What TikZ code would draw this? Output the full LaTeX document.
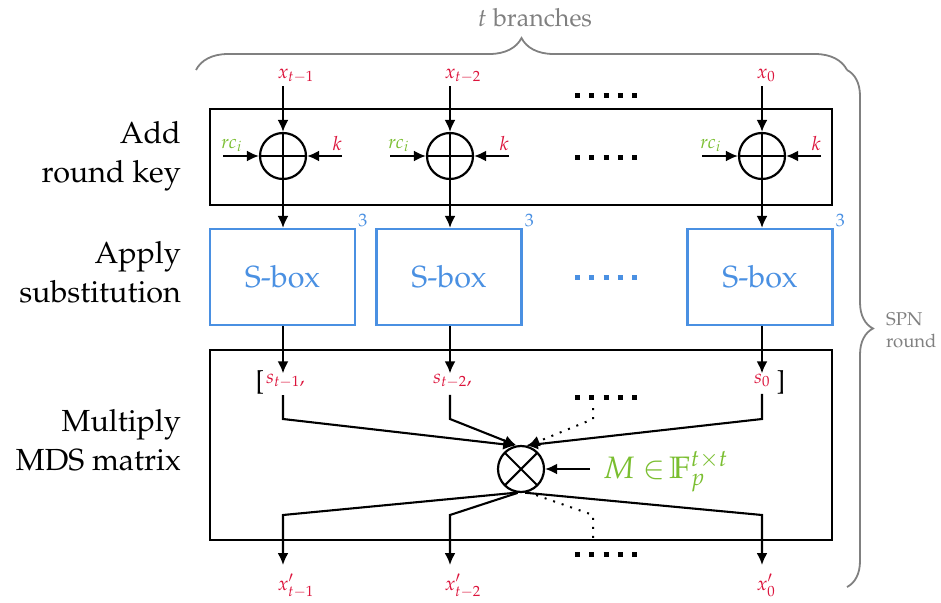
\documentclass[tikz,border=0pt]{standalone}
\usepackage[T1]{fontenc}
\usepackage{mathpazo}
\usetikzlibrary{arrows.meta,decorations.pathreplacing}

\definecolor{sigred}{RGB}{220,20,60}
\definecolor{constgreen}{RGB}{122,190,48}
\definecolor{sboxblue}{RGB}{74,144,226}
\definecolor{annotgray}{RGB}{128,128,128}

\newcommand{\setfs}[1]{\fontsize{#1}{#1}\selectfont}

\begin{document}
\begin{tikzpicture}[x=1pt,y=-1pt,
  >={Latex[length=12pt,width=11pt]},
  wire/.style={line width=2.1pt},
  dotwire/.style={line width=2pt, dash pattern=on 2pt off 7pt},
  frame/.style={draw, line width=2.3pt, minimum width=622pt, inner sep=0pt},
  sbox/.style={draw=sboxblue, line width=2.2pt, minimum width=145pt, minimum height=96pt,
    inner sep=0pt, text=sboxblue, font=\setfs{30.5}},
  expo/.style={text=sboxblue, font=\setfs{18}, inner sep=1pt, anchor=south west},
  xorop/.style={circle, draw, line width=2.2pt, minimum size=46pt, inner sep=0pt,
    path picture={\draw[line width=2.1pt]
      (path picture bounding box.north) -- (path picture bounding box.south)
      (path picture bounding box.west) -- (path picture bounding box.east);}},
  mulop/.style={circle, draw, line width=2.2pt, minimum size=46pt, inner sep=0pt,
    path picture={\draw[line width=2.1pt]
      (path picture bounding box.north west) -- (path picture bounding box.south east)
      (path picture bounding box.south west) -- (path picture bounding box.north east);}},
  sig/.style={text=sigred, font=\setfs{19.5}, inner sep=0pt},
  rclab/.style={text=constgreen, font=\setfs{19}, inner sep=0pt},
  dotrow/.style={line width=5pt, dash pattern=on 5pt off 9.25pt},
  caption/.style={align=right, anchor=east, inner sep=0pt, font=\fontsize{30.5}{39}\selectfont},
  annot/.style={draw=annotgray, line width=1.8pt},
  bracket/.style={font=\setfs{26}, anchor=base, inner sep=0pt}
]
\useasboundingbox (0,0) rectangle (941,602);

% stage frames
\node[frame, minimum height=96pt] (ark) at (521,157) {};
\node[frame, minimum height=190pt] (mds) at (521,445) {};

% stage captions
\node[caption] (c1) at (181,156) {Add\\round key};
\node[caption] (c2) at (181,272) {Apply\\substitution};
\node[caption] (c3) at (181,440) {Multiply\\MDS matrix};

% round inputs
\coordinate (in1) at (283,86);
\coordinate (in2) at (450,86);
\coordinate (in3) at (762,86);
\node[sig, anchor=base west] (lx1) at (277.5,78) {$x_{t-1}$};
\node[sig, anchor=base west] (lx2) at (444.5,78) {$x_{t-2}$};
\node[sig, anchor=base west] (lx3) at (756.5,78) {$x_0$};

% key addition
\node[xorop] (a1) at (283,156) {};
\node[xorop] (a2) at (450,156) {};
\node[xorop] (a3) at (762,156) {};

\coordinate (rcs1) at (223,156);
\coordinate (rcs2) at (390,156);
\coordinate (rcs3) at (702,156);
\coordinate (ks1) at (342,156);
\coordinate (ks2) at (509,156);
\coordinate (ks3) at (821,156);
\node[rclab, anchor=base west] (rc1) at (221,148) {$rc_i$};
\node[rclab, anchor=base west] (rc2) at (388,148) {$rc_i$};
\node[rclab, anchor=base west] (rc3) at (700,148) {$rc_i$};
\node[sig, anchor=base east] (k1) at (342,150) {$k$};
\node[sig, anchor=base east] (k2) at (509,150) {$k$};
\node[sig, anchor=base east] (k3) at (821,150) {$k$};

\foreach \n in {1,2,3} {
  \draw[wire,->] (in\n) -- (a\n);
  \draw[wire,->] (rcs\n) -- (a\n);
  \draw[wire,->] (ks\n) -- (a\n);
}

% substitution layer
\node[sbox] (sb1) at (282.5,277) {S-box};
\node[sbox] (sb2) at (449,277) {S-box};
\node[sbox] (sb3) at (760,277) {S-box};
\node[expo, xshift=1pt] (e1) at (sb1.north east) {3};
\node[expo, xshift=1pt] (e2) at (sb2.north east) {3};
\node[expo, xshift=1pt] (e3) at (sb3.north east) {3};

\foreach \n in {1,2,3} {
  \draw[wire,->] (a\n.south) -- (a\n.south |- sb\n.north);
}

% state vector entering the linear layer
\node[sig, anchor=base] (s1) at (283,383) {$s_{t-1}$\rlap{,}};
\node[sig, anchor=base] (s2) at (450,383) {$s_{t-2}$\rlap{,}};
\node[sig, anchor=base] (s3) at (762,383) {$s_0$};
\node[bracket] (lbr) at (260,389) {[};
\node[bracket] (rbr) at (781,389) {]};

\foreach \n in {1,2,3} {
  \draw[wire,->] (sb\n.south -| s\n) -- (s\n.north);
}

% matrix multiplication
\node[mulop] (mul) at (521,469) {};
\node[anchor=base west, text=constgreen, font=\setfs{31}, inner xsep=13pt, inner ysep=0pt]
  (mlab) at (590,478) {$M \in\!\mathbb{F}_p^{t\times t}$};
\draw[wire,->] (mlab.west |- mul) -- (mul.east);

\coordinate (upper) at (0,419);
\coordinate (lower) at (0,515);
\coordinate (dtop) at (593,408);
\coordinate (dbot) at (593,540);

\draw[wire,->] (s1.south) ++(0,7) -- (s1 |- upper) -- (mul.104);
\draw[wire,->] (s2.south) ++(0,7) -- (s2 |- upper) -- (mul.101);
\draw[wire,->] (s3.south) ++(0,7) -- (s3 |- upper) -- (mul.78);
\draw[dotwire,->] (dtop) -- (dtop |- upper) -- (mul.74);

% outputs
\coordinate (o1) at (283,565);
\coordinate (o2) at (450,565);
\coordinate (o3) at (762,565);
\draw[wire,->] (mul.-101) -- (o1 |- lower) -- (o1);
\draw[wire,->] (mul.-98) -- (o2 |- lower) -- (o2);
\draw[wire,->] (mul.-80) -- (o3 |- lower) -- (o3);
\draw[dotwire] (mul.-74) -- (dbot |- lower) -- (dbot);

\node[sig, anchor=base west] (ox1) at (277.5,590) {$x'_{t-1}$};
\node[sig, anchor=base west] (ox2) at (444.5,590) {$x'_{t-2}$};
\node[sig, anchor=base west] (ox3) at (756.5,590) {$x'_0$};

% elided branches
\draw[dotrow] (575,95) -- (637,95);
\draw[dotrow] (575,157) -- (637,157);
\draw[dotrow, draw=sboxblue] (575,277) -- (637,277);
\draw[dotrow] (575,397) -- (637,397);
\draw[dotrow] (575,554) -- (637,554);

% braces
\draw[annot, decorate, decoration={brace, amplitude=32pt}] (196,70) -- (847,70);
\draw[annot, decorate, decoration={brace, amplitude=26pt}] (847,70) -- (847,587);
\node[text=annotgray, font=\setfs{25}, anchor=base, inner sep=0pt] (tb) at (535,27) {$t$ branches};
\node[text=annotgray, font=\fontsize{18.5}{22}\selectfont, align=left, anchor=west, inner sep=0pt]
  (spn) at (886,330) {SPN\\round};
\end{tikzpicture}
\end{document}
